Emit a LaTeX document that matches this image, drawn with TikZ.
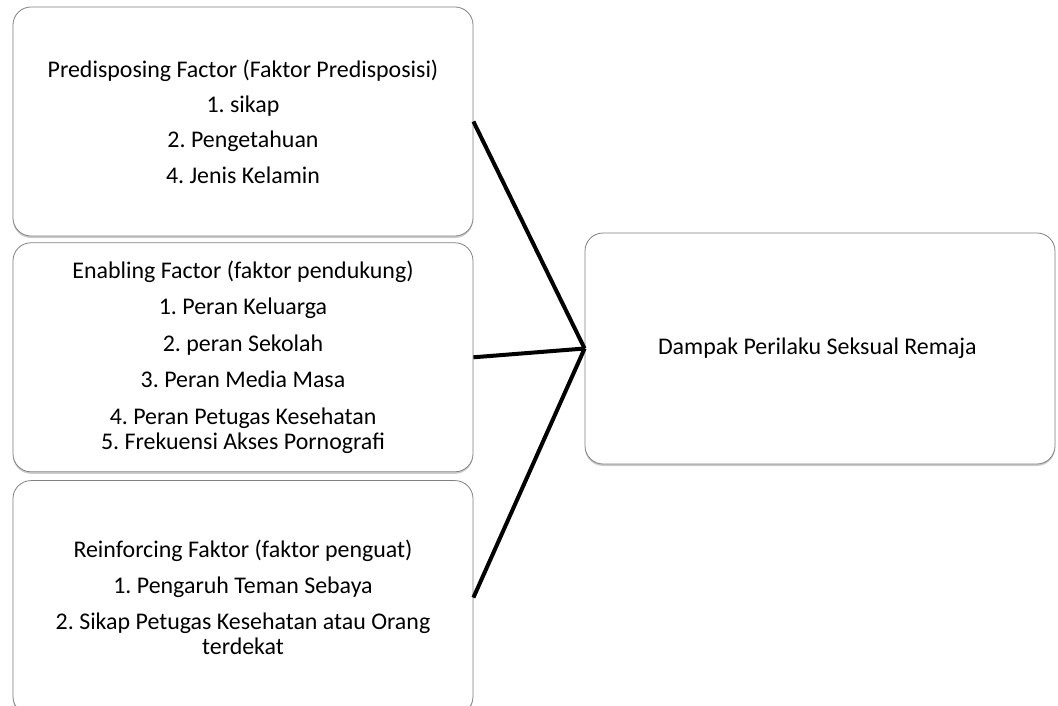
\documentclass[tikz,border=0pt]{standalone}
\usepackage{fontspec}
\setmainfont{Carlito}
\frenchspacing
\usetikzlibrary{positioning,shadows}
\tikzstyle{factorbox} = [draw=black!50, fill=white, thick, rectangle,
    rounded corners=18bp, minimum width=460bp, minimum height=229bp,
    align=center, inner sep=0pt, font=\fontsize{24}{25}\selectfont,
    drop shadow={shadow xshift=0bp, shadow yshift=-2bp, opacity=0.4}]
\tikzstyle{link} = [line width=4bp, black]

\begin{document}
\begin{tikzpicture}[x=1bp, y=-1bp]
\useasboundingbox (0,0) rectangle (1058,706);
\clip (0,0) rectangle (1058,706);

\node [factorbox] (predisposing) at (243,121.5) {%
    Predisposing Factor (Faktor Predisposisi)\\[10.5bp]
    1. sikap\\[10.5bp]
    2. Pengetahuan\\[10.5bp]
    4. Jenis Kelamin
};

\node [factorbox, below=6bp of predisposing.south] (enabling) {%
    Enabling Factor (faktor pendukung)\\[11bp]
    1. Peran Keluarga\\[12bp]
    2. peran Sekolah\\[12bp]
    3. Peran Media Masa\\[12bp]
    4. Peran Petugas Kesehatan\\
    5. Frekuensi Akses Pornografi
};

\node [factorbox, minimum height=234bp, below=8bp of enabling.south] (reinforcing) {%
    Reinforcing Faktor (faktor penguat)\\[11bp]
    1. Pengaruh Teman Sebaya\\[11bp]
    2. Sikap Petugas Kesehatan atau Orang\\
    terdekat
};

\node [factorbox, minimum width=470bp, minimum height=231bp] (dampak) at (820,348.5) {%
    Dampak Perilaku Seksual Remaja
};

\draw [link] (predisposing.east) -- (dampak.west);
\draw [link] (enabling.east) -- (dampak.west);
\draw [link] (reinforcing.east) -- (dampak.west);

\end{tikzpicture}
\end{document}
